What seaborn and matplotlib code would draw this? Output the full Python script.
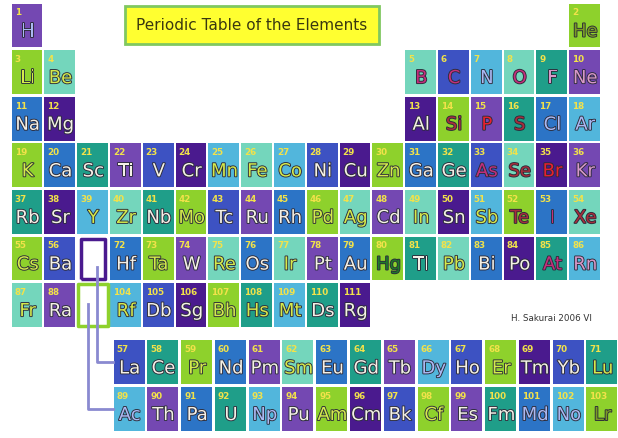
import matplotlib
matplotlib.use('Agg')
import matplotlib.pyplot as plt
import matplotlib.patheffects as pe
from matplotlib.path import Path
import pandas as pd
import seaborn as sns

# element symbols, atomic number 1..111
symbols = ['H', 'He', 'Li', 'Be', 'B', 'C', 'N', 'O', 'F', 'Ne',
           'Na', 'Mg', 'Al', 'Si', 'P', 'S', 'Cl', 'Ar',
           'K', 'Ca', 'Sc', 'Ti', 'V', 'Cr', 'Mn', 'Fe', 'Co', 'Ni', 'Cu', 'Zn',
           'Ga', 'Ge', 'As', 'Se', 'Br', 'Kr',
           'Rb', 'Sr', 'Y', 'Zr', 'Nb', 'Mo', 'Tc', 'Ru', 'Rh', 'Pd', 'Ag', 'Cd',
           'In', 'Sn', 'Sb', 'Te', 'I', 'Xe',
           'Cs', 'Ba', 'La', 'Ce', 'Pr', 'Nd', 'Pm', 'Sm', 'Eu', 'Gd', 'Tb', 'Dy',
           'Ho', 'Er', 'Tm', 'Yb', 'Lu', 'Hf', 'Ta', 'W', 'Re', 'Os', 'Ir', 'Pt',
           'Au', 'Hg', 'Tl', 'Pb', 'Bi', 'Po', 'At', 'Rn',
           'Fr', 'Ra', 'Ac', 'Th', 'Pa', 'U', 'Np', 'Pu', 'Am', 'Cm', 'Bk', 'Cf',
           'Es', 'Fm', 'Md', 'No', 'Lr', 'Rf', 'Db', 'Sg', 'Bh', 'Hs', 'Mt', 'Ds', 'Rg']

# tile colour code per element
tile_codes = ('PG' 'GAABLATP' 'MDDGPTML' 'GMTPBDLALBDGMTBADP'
              'TDLATGBPMGAPADLGMA'
              'GB' 'BTGMPAMTPLBGDBT' 'MGPAMAPMGTAMDTL'
              'AP' 'LPMTLPGDBGPTMLG' 'LBDGTLTD')
# symbol text colour code per element
text_codes = ('lo' 'yymmlmkk' 'wwwdrdll' 'ywwwwwyyywwywwmdrk'
              'wwyywywwwyywywydmd'
              'yw' 'wwywwywwwlwywwy' 'wywywywwgwywwmk'
              'yw' 'lwwwlwywwywwllo' 'ywwyyyww')

tile_palette = {'P': '#7448b2', 'D': '#4a1a8e', 'B': '#3d52c2', 'M': '#2c74c6',
                'T': '#1f9e89', 'G': '#8ed12c', 'A': '#74d6bc', 'L': '#52b6dc'}
text_palette = {'w': '#f4f0e6', 'y': '#d4ea4c', 'r': '#e8202e', 'm': '#c42f7c',
                'd': '#a82e3c', 'g': '#1e7a28', 'l': '#aab8f2', 'k': '#d898c8',
                'o': '#7a9a24'}

title = 'Periodic Table of the Elements'
credit = 'H. Sakurai 2006 VI'


def position(z):
    # (column, row) in the drawing grid; f-block rows sit below the table
    if z == 1:
        return 1.0, 1.0
    if z == 2:
        return 18.0, 1.0
    starts = [(3, 2), (11, 3), (19, 4), (37, 5), (55, 6), (87, 7)]
    for first, period in reversed(starts):
        if z >= first:
            k = z - first
            break
    if period in (2, 3):
        return (k + 1.0 if k < 2 else k + 11.0), float(period)
    if period in (4, 5):
        return k + 1.0, float(period)
    if k < 2:
        return k + 1.0, float(period)
    if k < 17:
        return 4.11 + (k - 2) * 1.03, period + 2.23
    return k - 13.0, float(period)


rows = []
for i, sym in enumerate(symbols):
    x, y = position(i + 1)
    rows.append({'z': i + 1, 'symbol': sym, 'x': x, 'y': y,
                 'tile': tile_codes[i], 'text': text_codes[i]})
df = pd.DataFrame(rows)

# tall rectangle marker (31 x 44 px tile)
tile = Path([(-15.5, -22), (15.5, -22), (15.5, 22), (-15.5, 22), (-15.5, -22)],
            [Path.MOVETO, Path.LINETO, Path.LINETO, Path.LINETO, Path.CLOSEPOLY])

fig = plt.figure(figsize=(6.18, 4.39), dpi=100)
ax = fig.add_axes([0, 0, 1, 1])
ax.set_xlim(1 - 27 / 32.8, 1 + (618 - 27) / 32.8)
ax.set_ylim(1 + (439 - 26.5) / 46.6, 1 - 26.5 / 46.6)
ax.axis('off')

sns.scatterplot(data=df, x='x', y='y', hue='tile', palette=tile_palette,
                marker=tile, s=1003, linewidth=0, legend=False, ax=ax)

outline = [pe.withStroke(linewidth=1.3, foreground='#2c2c3a')]
for _, r in df.iterrows():
    ax.text(r['x'] + 0.02, r['y'] + 0.13, r['symbol'], ha='center', va='center',
            fontsize=13, color=text_palette[r['text']], path_effects=outline)
    ax.text(r['x'] - 0.38, r['y'] - 0.29, str(r['z']), ha='left', va='center',
            fontsize=6.3, fontweight='bold', color='#f2e24a')

# empty placeholders for the lanthanide / actinide series
ax.scatter([3.0], [6.0], marker=Path([(-12, -20), (12, -20), (12, 20), (-12, 20), (-12, -20)]),
           s=800, facecolor='white', edgecolor='#4a1a8e', linewidth=2.5)
ax.scatter([3.0], [7.0], marker=tile, s=958, facecolor='white',
           edgecolor='#8ed12c', linewidth=2.5)
ax.plot([3.13, 3.13, 3.62], [6.18, 8.23, 8.23], color='#8a8ad0', lw=2, zorder=1)
ax.plot([2.86, 2.86, 3.62], [6.98, 9.23, 9.23], color='#8a8ad0', lw=2, zorder=1)

ax.text(7.86, 0.98, title, ha='center', va='center', fontsize=11,
        color='#3a3810',
        bbox=dict(boxstyle='square,pad=0.75', facecolor='#ffff30',
                  edgecolor='#80c860', linewidth=2))
ax.text(16.98, 7.26, credit, ha='center', va='center', fontsize=6.3, color='#333333')

fig.savefig('out.png', dpi=100, facecolor='white')
